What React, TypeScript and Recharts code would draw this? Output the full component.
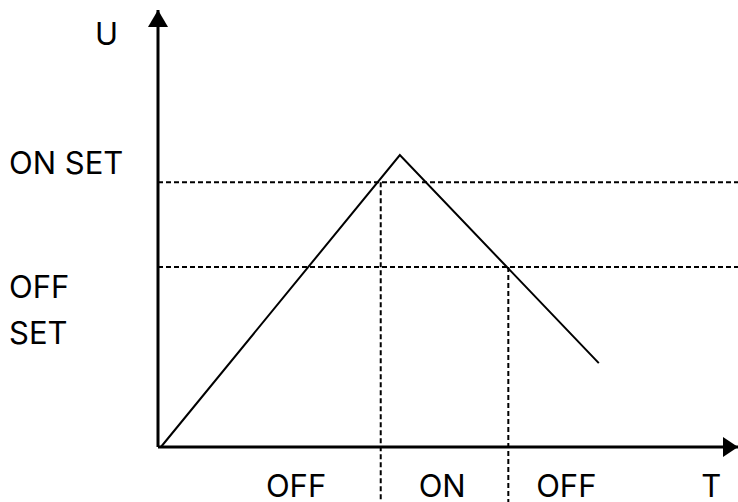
import React from 'react';
import { LineChart, Line, XAxis, YAxis, ReferenceLine, ReferenceDot } from 'recharts';

// Time (T) and voltage (U) in percent of the axis range
const timePoints = [0.5, 41.7, 76.0];
const voltageValues = [0, 66.8, 19.2];
const onSetLevel = 60.6;
const offSetLevel = 41.2;
const switchOnTime = 38.4;
const switchOffTime = 60.4;
const belowAxisLevel = -12.6;
const xTickValues = [23.8, 49.0, 70.4, 95.4];
const xTickLabels = ['OFF', 'ON', 'OFF', 'T'];
const yTickValues = [onSetLevel, offSetLevel];
const yTickLabels = [['ON SET'], ['OFF', 'SET']];
const axisMax = 100;

const data = timePoints.map((t, i) => ({ t, u: voltageValues[i] }));

const FONT = 'Inter';
const FS = 31;
const DASH = '5 3';

const YTick = (props: any) => {
  const { y, payload } = props;
  const idx = yTickValues.indexOf(payload.value);
  const lines = yTickLabels[idx] || [];
  if (lines.length === 1) {
    return (
      <text x={9} y={y - 8} fontSize={FS} fontFamily={FONT} fill="#000">
        {lines[0]}
      </text>
    );
  }
  return (
    <g>
      {lines.map((l, i) => (
        <text key={i} x={9} y={y + 31 + i * 46} fontSize={FS} fontFamily={FONT} fill="#000">
          {l}
        </text>
      ))}
    </g>
  );
};

const UpArrow = (props: any) => {
  const { cx, cy } = props;
  return <polygon points={`${cx},${cy} ${cx - 10},${cy + 17} ${cx + 10},${cy + 17}`} fill="#000" />;
};
const RightArrow = (props: any) => {
  const { cx, cy } = props;
  return <polygon points={`${cx},${cy} ${cx - 15},${cy - 10} ${cx - 15},${cy + 10}`} fill="#000" />;
};

const ULabel = (props: any) => {
  const { viewBox } = props;
  return (
    <text x={viewBox.x + viewBox.width - 63} y={viewBox.y + 35} fontSize={FS} fontFamily={FONT} fill="#000">
      U
    </text>
  );
};

export default function App() {
  return (
    <div style={{ position: 'absolute', left: 0, top: 0, background: '#fff' }}>
      <LineChart
        width={738}
        height={502}
        data={data}
        margin={{ top: 10, right: 0, bottom: 54, left: 157 }}
      >
        <XAxis
          dataKey="t"
          type="number"
          domain={[0, axisMax]}
          ticks={xTickValues}
          tickFormatter={(v: number) => xTickLabels[xTickValues.indexOf(v)]}
          tickLine={false}
          tickSize={0}
          tickMargin={28}
          height={1}
          axisLine={{ stroke: '#000', strokeWidth: 3 }}
          tick={{ fontSize: FS, fontFamily: FONT, fill: '#000' }}
          interval={0}
        />
        <YAxis
          type="number"
          domain={[0, axisMax]}
          ticks={yTickValues}
          tick={<YTick />}
          tickLine={false}
          width={1}
          axisLine={{ stroke: '#000', strokeWidth: 3 }}
          label={<ULabel />}
          interval={0}
        />
        <ReferenceLine y={onSetLevel} stroke="#000" strokeWidth={2} strokeDasharray={DASH} />
        <ReferenceLine y={offSetLevel} stroke="#000" strokeWidth={2} strokeDasharray={DASH} />
        <ReferenceLine
          segment={[{ x: switchOnTime, y: onSetLevel }, { x: switchOnTime, y: belowAxisLevel }]}
          stroke="#000"
          strokeWidth={2}
          strokeDasharray={DASH}
          ifOverflow="visible"
        />
        <ReferenceLine
          segment={[{ x: switchOffTime, y: offSetLevel }, { x: switchOffTime, y: belowAxisLevel }]}
          stroke="#000"
          strokeWidth={2}
          strokeDasharray={DASH}
          ifOverflow="visible"
        />
        <Line
          dataKey="u"
          type="linear"
          stroke="#000"
          strokeWidth={2}
          dot={false}
          isAnimationActive={false}
        />
        <ReferenceDot x={0} y={axisMax} shape={<UpArrow />} ifOverflow="visible" />
        <ReferenceDot x={axisMax} y={0} shape={<RightArrow />} ifOverflow="visible" />
      </LineChart>
    </div>
  );
}
